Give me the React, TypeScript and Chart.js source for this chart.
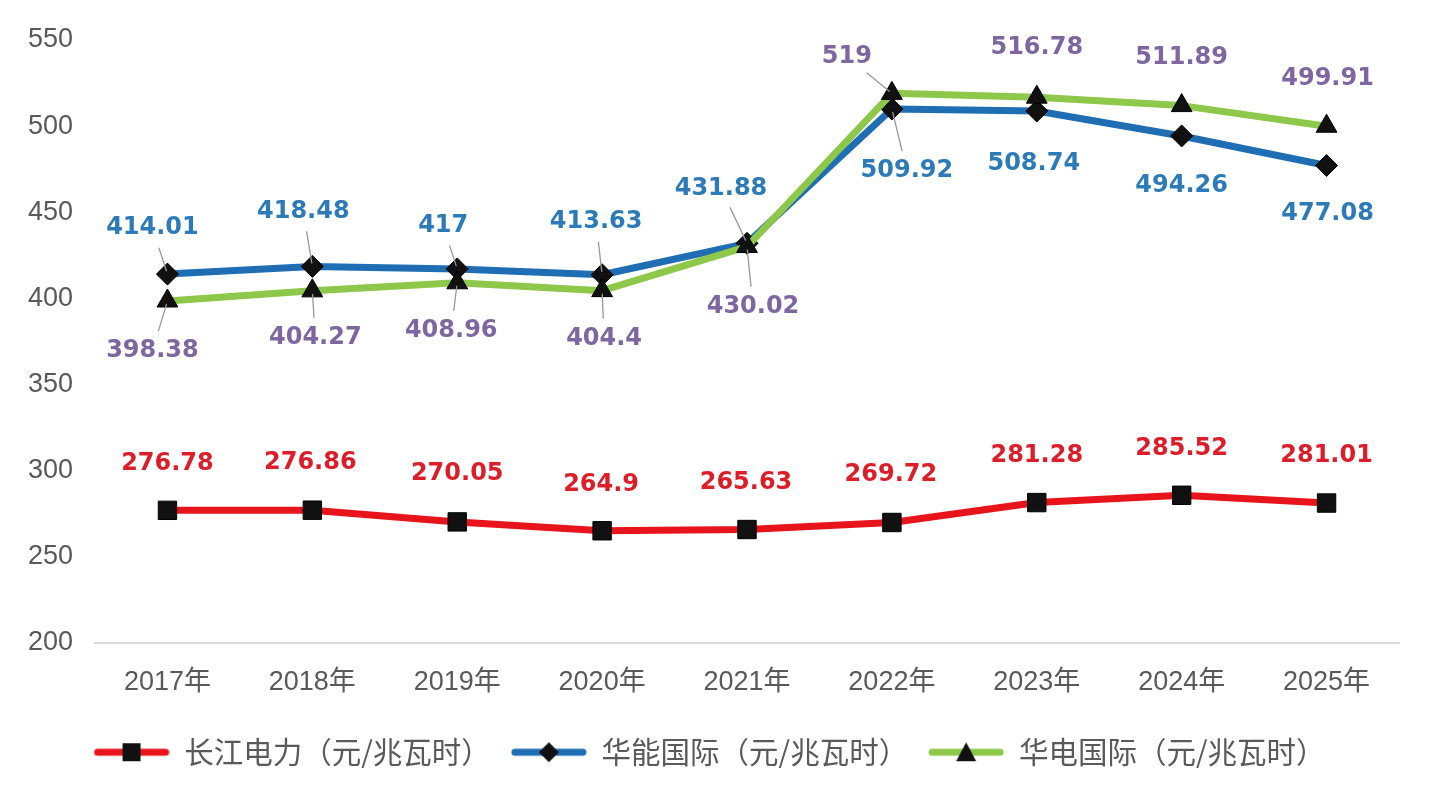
import React, { useEffect, useRef } from "react";
import { Chart, registerables } from "chart.js";

Chart.register(...registerables);

const years = ["2017年", "2018年", "2019年", "2020年", "2021年", "2022年", "2023年", "2024年", "2025年"];
const changjiang = [276.78, 276.86, 270.05, 264.9, 265.63, 269.72, 281.28, 285.52, 281.01];
const huaneng = [414.01, 418.48, 417, 413.63, 431.88, 509.92, 508.74, 494.26, 477.08];
const huadian = [398.38, 404.27, 408.96, 404.4, 430.02, 519, 516.78, 511.89, 499.91];
const seriesNames = ["长江电力（元/兆瓦时）", "华能国际（元/兆瓦时）", "华电国际（元/兆瓦时）"];

// where each value label sits relative to its point (px), and whether it gets a leader line
const labelOffsets = [
  [[0, -47], [-2, -47], [0, -48], [-1, -46], [-1, -47], [-1, -48], [0, -47], [0, -47], [0, -47]],
  [[-15, -46], [-9, -55], [-14, -43], [-6, -53], [-26, -55], [15, 62], [-3, 53], [0, 50], [1, 48]],
  [[-15, 50], [3, 47], [-6, 48], [2, 48], [6, 60], [-45, -37], [0, -49], [0, -48], [1, -47]],
];
const leaders = [
  [0, 0, 0, 0, 0, 0, 0, 0, 0],
  [1, 1, 1, 1, 1, 1, 0, 0, 0],
  [1, 1, 1, 1, 1, 1, 0, 0, 0],
];

const lineColors = ["#E8141C", "#1F6DB3", "#8DC84A"];
const labelColors = ["#DC1E2A", "#2C7BB8", "#7E66A0"];
const markers = ["rect", "rectRot", "triangle"];
const markerRadius = [13, 11, 12];
const GRAY = "#595959";

function makeLegendIcon(i: number) {
  const c = document.createElement("canvas");
  c.width = 76;
  c.height = 24;
  const g = c.getContext("2d")!;
  g.strokeStyle = lineColors[i];
  g.lineWidth = 7;
  g.lineCap = "round";
  g.beginPath();
  g.moveTo(4, 12);
  g.lineTo(72, 12);
  g.stroke();
  g.fillStyle = "#111";
  g.beginPath();
  if (i === 0) {
    g.rect(29, 3, 18, 18);
  } else if (i === 1) {
    g.moveTo(38, 2);
    g.lineTo(48, 12);
    g.lineTo(38, 22);
    g.lineTo(28, 12);
  } else {
    g.moveTo(38, 2);
    g.lineTo(48, 21);
    g.lineTo(28, 21);
  }
  g.closePath();
  g.fill();
  return c;
}

const valueLabels = {
  id: "valueLabels",
  afterDatasetsDraw(chart: any) {
    const ctx = chart.ctx;
    ctx.save();
    ctx.font = "bold 24px 'DejaVu Sans'";
    ctx.textAlign = "center";
    ctx.textBaseline = "middle";
    chart.data.datasets.forEach((ds: any, di: number) => {
      const meta = chart.getDatasetMeta(di);
      meta.data.forEach((pt: any, i: number) => {
        const [dx, dy] = labelOffsets[di][i];
        const lx = pt.x + dx;
        const ly = pt.y + dy;
        const text = String(ds.data[i]);
        if (leaders[di][i]) {
          const hw = ctx.measureText(text).width / 2;
          const hh = 10;
          const vx = -dx;
          const vy = -dy;
          const len = Math.hypot(vx, vy);
          const ux = vx / len;
          const uy = vy / len;
          const t = Math.min(hw / Math.max(Math.abs(vx), 1e-6), hh / Math.max(Math.abs(vy), 1e-6));
          const sx = lx + vx * t + ux * 10;
          const sy = ly + vy * t + uy * 10;
          const ex = pt.x - ux * 3;
          const ey = pt.y - uy * 3;
          ctx.strokeStyle = "#999999";
          ctx.lineWidth = 1.3;
          ctx.beginPath();
          ctx.moveTo(sx, sy);
          ctx.lineTo(ex, ey);
          ctx.stroke();
        }
        ctx.fillStyle = labelColors[di];
        ctx.fillText(text, lx, ly);
      });
    });
    ctx.restore();
  },
};

export default function App() {
  const canvasRef = useRef<HTMLCanvasElement>(null);

  useEffect(() => {
    const ctx = canvasRef.current?.getContext("2d");
    if (!ctx) return;
    const seriesData = [changjiang, huaneng, huadian];
    const icons = [0, 1, 2].map(makeLegendIcon);

    const chart = new Chart(ctx, {
      type: "line",
      data: {
        labels: years,
        datasets: seriesData.map((d, i) => ({
          label: seriesNames[i],
          data: d,
          borderColor: lineColors[i],
          borderWidth: 7,
          borderCapStyle: "round",
          borderJoinStyle: "round",
          tension: 0,
          fill: false,
          pointStyle: markers[i],
          pointRadius: markerRadius[i],
          pointBackgroundColor: "#111",
          pointBorderColor: "#000",
          pointBorderWidth: 1,
          order: 2 - i,
        })) as any,
      },
      options: {
        animation: false,
        responsive: true,
        maintainAspectRatio: false,
        layout: { padding: { left: 20, right: 40, top: 40, bottom: 28 } },
        scales: {
          x: {
            offset: true,
            grid: { display: false, drawTicks: false },
            border: { display: true, color: "#D9D9D9", width: 2 },
            ticks: {
              color: GRAY,
              padding: 24,
              font: { size: 27, family: "'Liberation Sans', 'Noto Sans CJK SC'" },
            },
            afterFit: (s: any) => {
              s.height = 75;
            },
          },
          y: {
            min: 200,
            max: 550,
            grid: { display: false, drawTicks: false },
            border: { display: false },
            ticks: {
              stepSize: 50,
              color: GRAY,
              padding: 22,
              font: { size: 27, family: "'Liberation Sans'" },
            },
            afterFit: (s: any) => {
              s.width = 75;
            },
          },
        },
        plugins: {
          legend: {
            position: "bottom",
            labels: {
              usePointStyle: true,
              pointStyleWidth: 76,
              boxHeight: 24,
              padding: 20,
              color: GRAY,
              font: { size: 29.5, family: "'Noto Sans CJK SC'" },
              generateLabels: () =>
                seriesNames.map((name, i) => ({
                  text: name,
                  fillStyle: lineColors[i],
                  strokeStyle: lineColors[i],
                  lineWidth: 0,
                  pointStyle: icons[i] as any,
                  fontColor: GRAY,
                  hidden: false,
                  datasetIndex: i,
                })),
            },
          },
          tooltip: { enabled: false },
        },
      },
      plugins: [valueLabels],
    });

    return () => chart.destroy();
  }, []);

  return (
    <div style={{ position: "absolute", left: 0, top: 0, width: 1439, height: 805, background: "#fff" }}>
      <canvas ref={canvasRef}></canvas>
    </div>
  );
}
